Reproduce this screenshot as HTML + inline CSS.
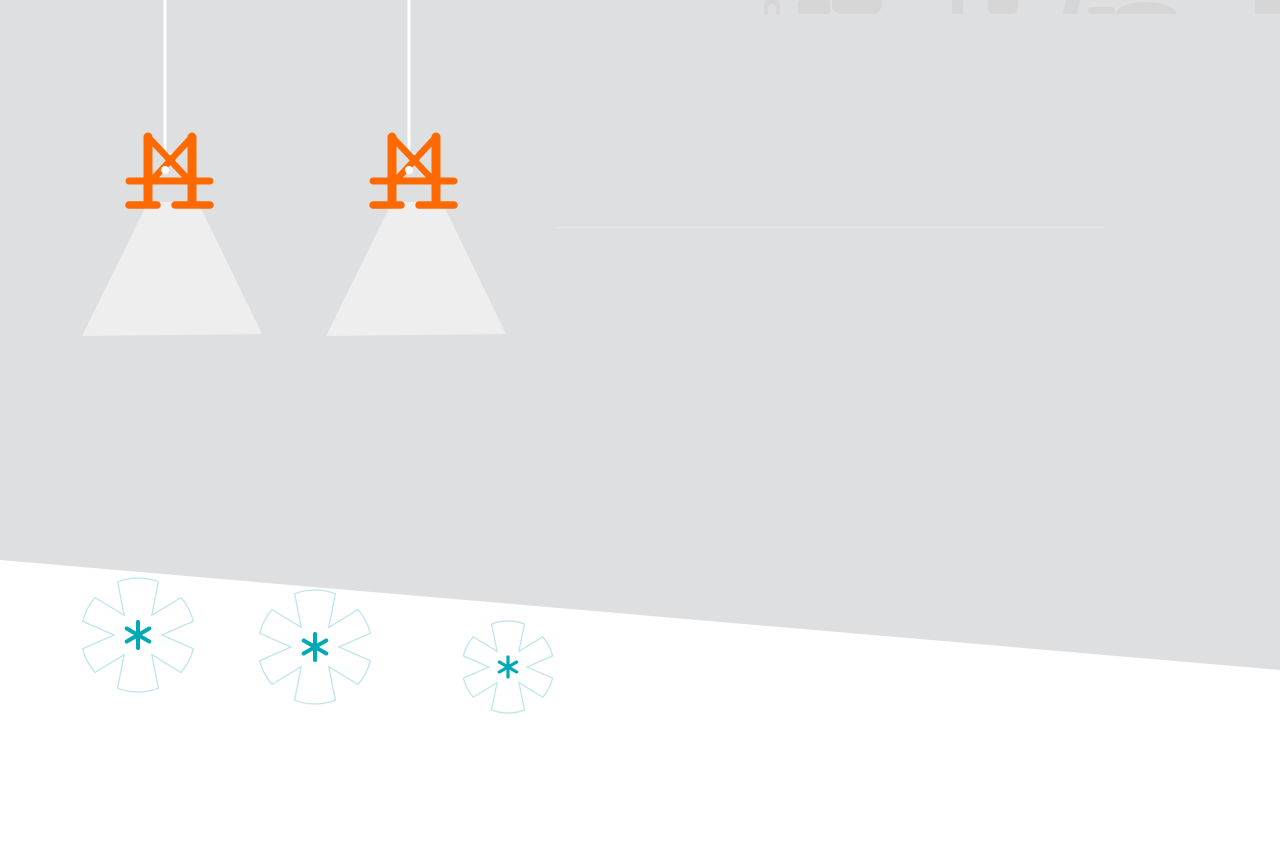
<!DOCTYPE html>
<html><head><meta charset="utf-8"><style>
html,body{margin:0;padding:0;background:#fff;width:1280px;height:847px;overflow:hidden}
svg{display:block}
</style></head><body>
<svg width="1280" height="847" viewBox="0 0 1280 847" xmlns="http://www.w3.org/2000/svg">
<polygon points="0,0 1280,0 1280,670 0,560" fill="#dedfe1"/>
<g fill="#d6d6d6">
<rect x="798" y="0" width="32" height="14" rx="3"/>
<path d="M832,0 h50 v4 a10,10 0 0 1 -10,10 h-30 a10,10 0 0 1 -10,-10z"/>
<rect x="952" y="0" width="11" height="14"/>
<path d="M988,0 h30 v8 a6,6 0 0 1 -6,6 h-18 a6,6 0 0 1 -6,-6z"/>
<polygon points="1063,14 1066,0 1080,0 1077,14"/>
<rect x="1088" y="7" width="27" height="7" rx="3"/>
<path d="M1116,14 a30,12 0 0 1 60,0z"/>
<rect x="1255" y="0" width="25" height="14"/>
<path d="M764,14 v-8 a8,8 0 0 1 16,0 v8 h-4 v-6 a4,4 0 0 0 -8,0 v6z"/>
</g>
<line x1="556" y1="227.5" x2="1104" y2="227.5" stroke="#e6e7e8" stroke-width="1"/>
<g id="lamp">
<polygon points="82,336 262,334 198,202 148,202" fill="#eeeeee"/>
<line x1="165" y1="0" x2="165" y2="155" stroke="#fff" stroke-width="3"/>
<line x1="164" y1="154" x2="180" y2="154" stroke="#fff" stroke-width="2.5"/>
<g stroke="#ff6a00" stroke-linecap="round" fill="none">
<line x1="148" y1="137" x2="148" y2="203" stroke-width="9"/>
<line x1="192" y1="137" x2="192" y2="203" stroke-width="9"/>
<line x1="149" y1="138" x2="187" y2="178" stroke-width="6.5"/>
<line x1="191" y1="138" x2="154" y2="178" stroke-width="6.5"/>
<line x1="129" y1="181" x2="210" y2="181" stroke-width="7"/>
<line x1="129" y1="205" x2="157" y2="205" stroke-width="7.5"/>
<line x1="175" y1="205" x2="210" y2="205" stroke-width="7.5"/>
</g>
<circle cx="165" cy="170" r="4" fill="#fff"/>
</g>
<use href="#lamp" transform="translate(244,0)"/>
<g id="flowers" fill="#fff" stroke="#bfe5ea" stroke-width="1.3"></g>
<g id="stars" stroke="#00a9b5" stroke-linecap="round"></g>
</svg>
<script>
var NS='http://www.w3.org/2000/svg';
function P(r,a,cx,cy){a=a*Math.PI/180;return (cx+r*Math.cos(a)).toFixed(1)+','+(cy+r*Math.sin(a)).toFixed(1);}
function flower(cx,cy,R,r){var N=[-125,-55,0,55,125,180],o=14,d='';
for(var i=0;i<6;i++){var a=N[i],b=(i<5?N[i+1]:N[0]+360);
d+=(i?'L':'M')+P(R,a+o,cx,cy)+'A'+R+','+R+' 0 0 1 '+P(R,b-o,cx,cy)+'L'+P(r,b,cx,cy);}
return d+'Z';}
var g=document.getElementById('flowers'),s=document.getElementById('stars');
[[138,635,57,24,13],[315,647,57,24,13],[508,667,46,19,10]].forEach(function(f){
var p=document.createElementNS(NS,'path');p.setAttribute('d',flower(f[0],f[1],f[2],f[3]));g.appendChild(p);
[90,30,150].forEach(function(a){var l=document.createElementNS(NS,'path');
l.setAttribute('d','M'+P(f[4],a,f[0],f[1])+'L'+P(f[4],a+180,f[0],f[1]));l.setAttribute('stroke-width',f[4]>11?4:3.2);s.appendChild(l);});
});
</script>
</body></html>
